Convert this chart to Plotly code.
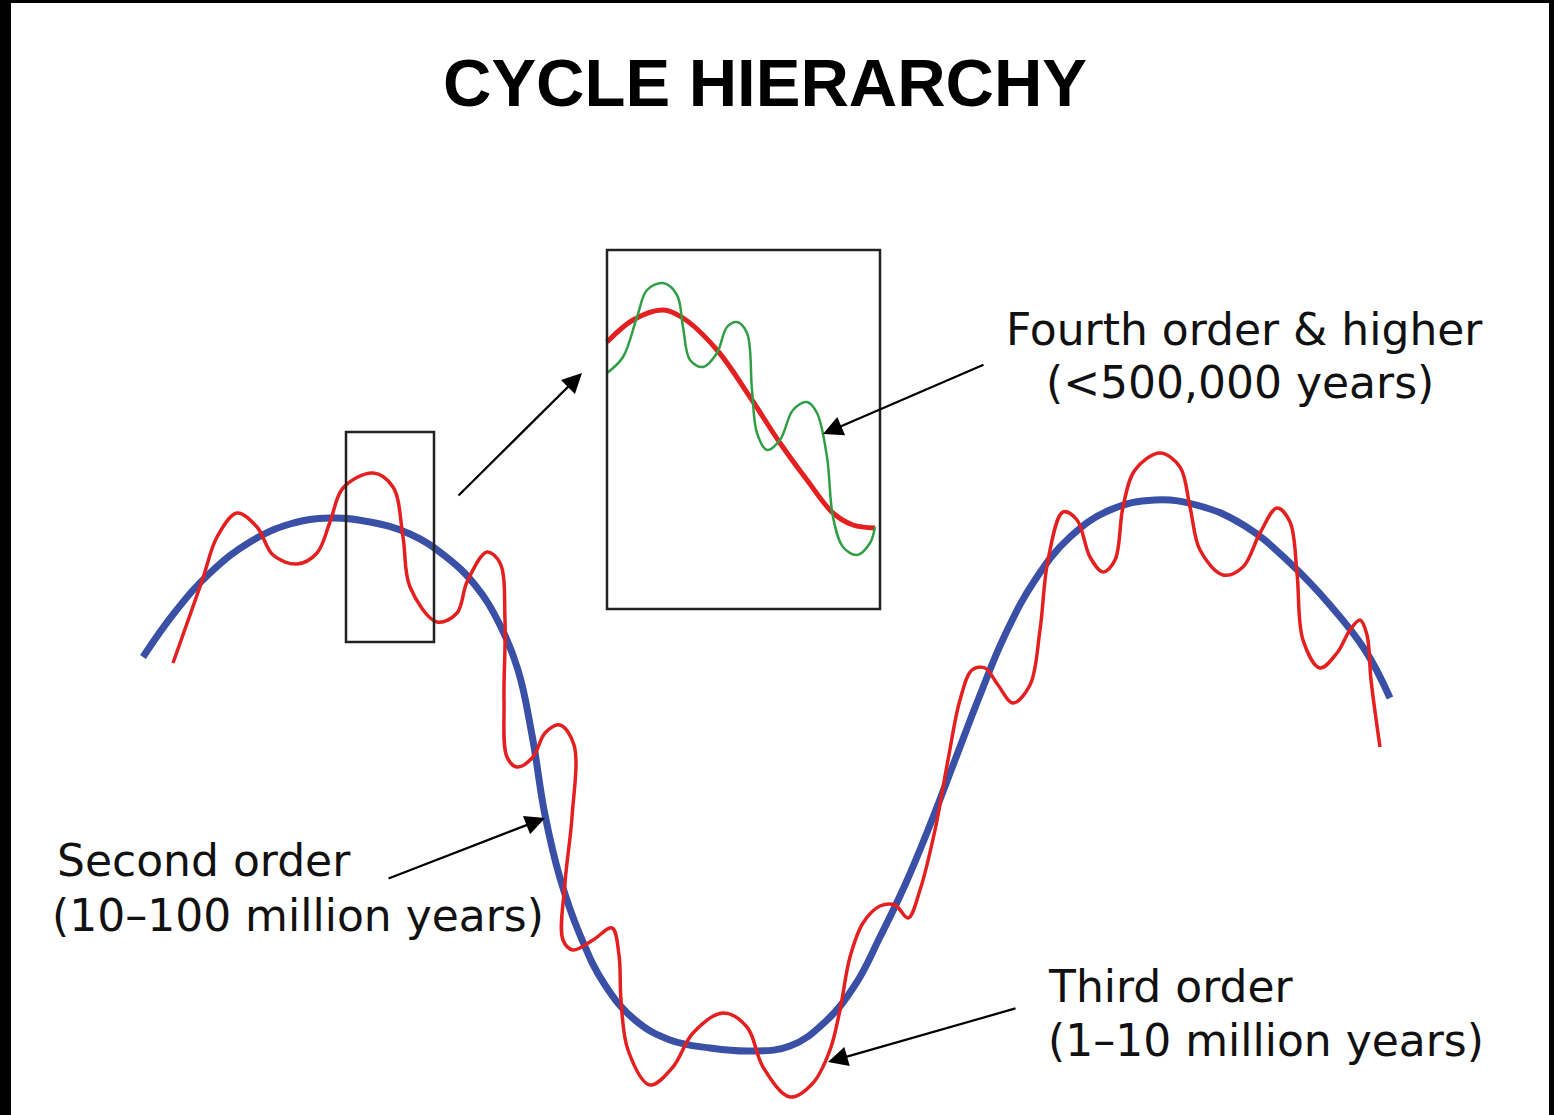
import plotly.graph_objects as go

# ---- data (pixel-space coordinates of the drawing) ----
second_x = [143, 175, 210, 250, 290, 330, 370, 410, 445, 475, 500, 518, 532, 545, 560, 580, 605, 635, 670,
            710, 750, 790, 825, 855, 880, 905, 930, 955, 980, 1005, 1035, 1070, 1110, 1155, 1200, 1245, 1290,
            1330, 1365, 1390]
second_y = [657, 612, 573, 542, 524, 518, 522, 534, 556, 585, 625, 670, 735, 815, 878, 935, 985, 1020, 1040,
            1048, 1051, 1046, 1022, 985, 937, 885, 825, 760, 695, 635, 580, 537, 510, 500, 506, 526, 563,
            605, 650, 698]

third_x = [173, 190, 203, 217, 237, 257, 273, 297, 317, 330, 343, 373, 393, 403, 410, 437, 457, 467, 487, 500,
           505, 504, 507, 517, 533, 545, 560, 574, 572, 565, 563, 573, 593, 612, 619, 621, 628, 650, 673, 693,
           723, 747, 763, 790, 813, 830, 840, 850, 863, 880, 895, 908, 920, 935, 948, 960, 972, 985, 998, 1013,
           1030, 1040, 1048, 1063, 1077, 1090, 1103, 1115, 1123, 1135, 1160, 1180, 1190, 1200, 1223, 1243, 1260,
           1277, 1290, 1297, 1303, 1320, 1337, 1350, 1360, 1367, 1371, 1380]
third_y = [663, 615, 578, 537, 513, 527, 555, 564, 553, 522, 488, 473, 487, 537, 587, 622, 613, 582, 552, 563,
           620, 700, 757, 767, 757, 733, 725, 745, 817, 883, 940, 950, 940, 928, 955, 1000, 1050, 1085, 1067, 1033,
           1013, 1027, 1067, 1097, 1083, 1050, 1010, 957, 923, 906, 905, 918, 890, 830, 760, 700, 670, 668, 685, 703,
           685, 630, 560, 512, 520, 557, 572, 560, 507, 470, 453, 467, 507, 550, 575, 567, 533,
           508, 522, 573, 640, 668, 653, 630, 620, 635, 680, 747]

inset_third_x = [607, 633, 663, 683, 717, 750, 780, 807, 833, 853, 875]
inset_third_y = [342, 320, 310, 318, 350, 397, 443, 480, 513, 525, 528]

fourth_x = [607, 623, 637, 647, 663, 677, 683, 690, 703, 717, 727, 737, 747, 752, 757, 767, 780, 793, 807, 817,
            827, 833, 843, 857, 870, 875]
fourth_y = [373, 357, 317, 290, 283, 295, 327, 360, 367, 353, 327, 322, 333, 390, 433, 450, 440, 410, 402, 413,
            457, 517, 547, 555, 543, 527]

title_text = "CYCLE HIERARCHY"
label_lines = ["Fourth order & higher", "(<500,000 years)",
               "Second order", "(10\u2013100 million years)",
               "Third order", "(1\u201310 million years)"]

zoom_box = [346, 434, 432, 642]     # x0, x1, y0, y1
inset_box = [607, 880, 250, 609]

BLUE = "#3a4fa6"
RED = "#e3201f"
GREEN = "#2f9e44"

fig = go.Figure()
fig.add_trace(go.Scatter(x=second_x, y=second_y, mode="lines",
                         line=dict(color=BLUE, width=7, shape="spline", smoothing=1.2)))
fig.add_trace(go.Scatter(x=third_x, y=third_y, mode="lines",
                         line=dict(color=RED, width=3.5, shape="spline", smoothing=1.0)))
fig.add_trace(go.Scatter(x=inset_third_x, y=inset_third_y, mode="lines",
                         line=dict(color=RED, width=5, shape="spline", smoothing=1.0)))
fig.add_trace(go.Scatter(x=fourth_x, y=fourth_y, mode="lines",
                         line=dict(color=GREEN, width=2.5, shape="spline", smoothing=1.0)))

for b in (zoom_box, inset_box):
    fig.add_shape(type="rect", xref="x", yref="y", x0=b[0], x1=b[1], y0=b[2], y1=b[3],
                  line=dict(color="#222222", width=2.5), fillcolor="rgba(0,0,0,0)", layer="above")

FONT = "DejaVu Sans"
FS = 44
# title
fig.add_annotation(x=765, y=82, xref="x", yref="y", text="<b>" + title_text + "</b>", showarrow=False,
                   font=dict(family="Liberation Sans, Arial", size=67, color="black"),
                   xanchor="center", yanchor="middle")
# labels
lab_pos = [(1244, 329, "center"), (1240, 382, "center"),
           (55, 860, "left"), (50, 915, "left"),
           (1046, 986, "left"), (1046, 1040, "left")]
for txt, (lx, ly, anc) in zip(label_lines, lab_pos):
    fig.add_annotation(x=lx, y=ly, xref="x", yref="y", text=txt, showarrow=False,
                       font=dict(family=FONT, size=FS, color="#111111"),
                       xanchor=anc, yanchor="middle")

# arrows (tip x,y ; tail ax,ay)
arrows = [((582, 373), (457, 497)),
          ((823, 434), (985, 364)),
          ((545, 818), (387, 879)),
          ((828, 1062), (1017, 1008))]
for (tx, ty), (axx, ayy) in arrows:
    fig.add_annotation(x=tx, y=ty, ax=axx, ay=ayy, xref="x", yref="y", axref="x", ayref="y",
                       text="", showarrow=True, arrowhead=2, arrowsize=1.8, arrowwidth=2.2,
                       arrowcolor="black")

fig.update_layout(
    width=1554, height=1115,
    margin=dict(l=11, r=5, t=3, b=0),
    paper_bgcolor="black", plot_bgcolor="white",
    showlegend=False,
    xaxis=dict(range=[11, 1549], visible=False, fixedrange=True),
    yaxis=dict(range=[1115, 3], visible=False, fixedrange=True),
)

fig.write_html("out.html", config={"displayModeBar": False},
               post_script="document.body.style.margin='0';document.body.style.overflow='hidden';")
